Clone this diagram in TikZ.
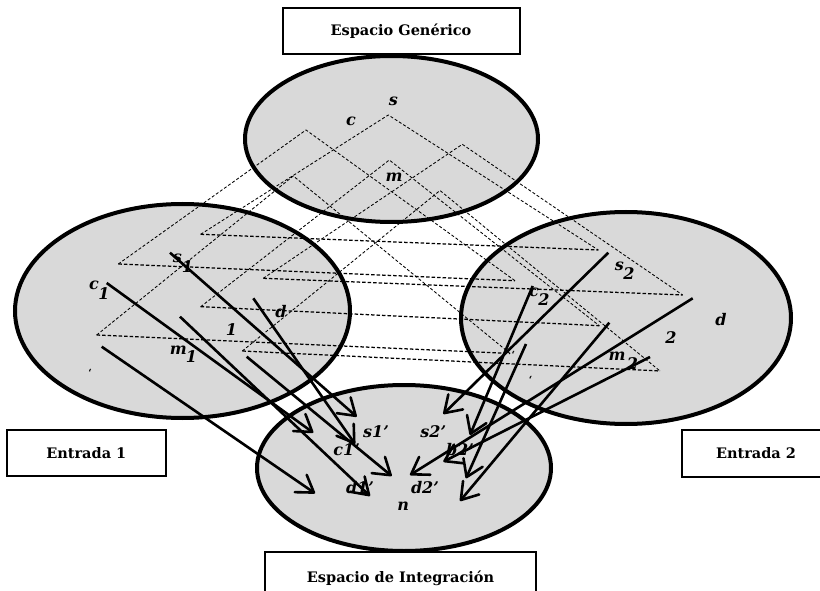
\documentclass[tikz,border=0pt]{standalone}
\usepackage{fontspec}
\newfontfamily\dvs{DejaVu Serif}
\usetikzlibrary{shapes.geometric,arrows.meta}
\begin{document}
\begin{tikzpicture}[x=1pt,y=-1pt,
  ell/.style={ellipse, draw, fill=gray!30, line width=4pt, inner sep=0pt},
  tri/.style={dash pattern=on 3pt off 2pt, line width=0.85pt},
  basel/.style={dash pattern=on 3.5pt off 2pt, line width=1.25pt},
  arr/.style={line width=2.6pt, -{Straight Barb[length=16pt,width=21pt,line width=2.6pt,round]}},
  lab/.style={font=\dvs\bfseries\itshape\fontsize{16}{18}\selectfont, inner sep=0pt},
  mk/.style={font=\dvs\bfseries\fontsize{10}{11}\selectfont, inner sep=0pt},
  boxlab/.style={draw, fill=white, line width=2pt, font=\dvs\bfseries\fontsize{14.5}{17}\selectfont, inner sep=0pt},
]
\useasboundingbox (0,0) rectangle (820,591);
\clip (0,0) rectangle (820,591);

% ellipses
\node[ell, minimum width=293pt, minimum height=166pt] (gen) at (391.5,139) {};
\node[ell, minimum width=335pt, minimum height=214pt] (in1) at (182.5,311) {};
\node[ell, minimum width=330pt, minimum height=212pt] (in2) at (626,318) {};
\node[ell, minimum width=294pt, minimum height=166pt] (bl) at (404,468) {};

% triangle vertices
\coordinate (A1) at (388.3,115);   \coordinate (L1) at (200.7,234.3); \coordinate (R1) at (598.3,250);
\coordinate (A2) at (306,130);     \coordinate (L2) at (118.3,264);   \coordinate (R2) at (515,280.7);
\coordinate (A3) at (462.3,144.3); \coordinate (L3) at (263.3,278.3); \coordinate (R3) at (682.7,295);
\coordinate (A4) at (389.3,160);   \coordinate (L4) at (200.7,306.7); \coordinate (R4) at (599.3,325.7);
\coordinate (A5) at (293.3,176);   \coordinate (L5) at (96.7,335);    \coordinate (R5) at (510,353.5);
\coordinate (A6) at (440,190.5);   \coordinate (L6) at (242.3,351);   \coordinate (R6) at (660,371);

\foreach \i in {1,...,6} {
  \draw[tri] (L\i) -- (A\i) -- (R\i);
  \draw[basel] (L\i) -- (R\i);
}

% arrow end points
\coordinate (S1) at (106.7,283);   \coordinate (H2) at (313.3,432.7);
\coordinate (S2) at (170,252.7);   \coordinate (H1) at (356.7,416.7);
\coordinate (S3) at (180,316.7);   \coordinate (H6) at (370,496);
\coordinate (S4) at (253.3,298.3); \coordinate (H3) at (355,444);
\coordinate (S5) at (101.7,346.7); \coordinate (H5) at (315,493.3);
\coordinate (S6) at (246.7,356.7); \coordinate (H4) at (391.7,476);
\coordinate (T1) at (608.3,252.7); \coordinate (H7) at (443.3,414);
\coordinate (T2) at (532.7,286);   \coordinate (H8) at (470,435);
\coordinate (T3) at (692.7,298.3); \coordinate (H9) at (410,475);
\coordinate (T4) at (609.3,322.7); \coordinate (H12) at (460,501);
\coordinate (T5) at (526,344);     \coordinate (H11) at (466,478.3);
\coordinate (T6) at (650,357);     \coordinate (H10) at (443.3,461.7);

\draw[arr] (S1) -- (H2);
\draw[arr] (S2) -- (H1);
\draw[arr] (S3) -- (H6);
\draw[arr] (S4) -- (H3);
\draw[arr] (S5) -- (H5);
\draw[arr] (S6) -- (H4);
\draw[arr] (T1) -- (H7);
\draw[arr] (T2) -- (H8);
\draw[arr] (T3) -- (H9);
\draw[arr] (T4) -- (H12);
\draw[arr] (T5) -- (H11);
\draw[arr] (T6) -- (H10);

% labels: generic space
\node[lab] (gs) at (393.3,101.7) {s};
\node[lab] (gc) at (351,121.7) {c};
\node[lab] (gm) at (394,177.3) {m};
% input 1
\node[lab] (s1a) at (177.3,258.3) {s};  \node[lab] (s1b) at (187.5,267) {1};
\node[lab] (c1a) at (94,285) {c};       \node[lab] (c1b) at (104,293.5) {1};
\node[lab] (d1) at (281,311.7) {d};
\node[lab] (o1) at (231.5,330) {1};
\node[lab] (m1a) at (178.3,350) {m};    \node[lab] (m1b) at (191.5,357) {1};
\node[mk] (k1) at (90,373) {‘};
% input 2
\node[lab] (s2a) at (619.3,266) {s};    \node[lab] (s2b) at (629,273.5) {2};
\node[lab] (c2a) at (534,292.7) {c};    \node[lab] (c2b) at (544,299.5) {2};
\node[lab] (d2) at (721,319.3) {d};
\node[lab] (o2) at (671,337.5) {2};
\node[lab] (m2a) at (617,356.7) {m};    \node[lab] (m2b) at (632.5,363.5) {2};
\node[mk] (k2) at (513.3,355) {‘};
\node[mk] (k3) at (530.7,380) {‘};
% blend
\node[lab] (b1) at (376,431.7) {s1’};
\node[lab] (b2) at (433.3,431.7) {s2’};
\node[lab] (b3) at (346.7,450) {c1’};
\node[lab] (b4) at (460,450) {b2’};
\node[lab] (b5) at (360,487.3) {d1’};
\node[lab] (b6) at (425,487.3) {d2’};
\node[lab] (b7) at (403.3,506.7) {n};

% boxes
\node[boxlab, minimum width=237pt, minimum height=46pt] (tgen) at (401,31) {Espacio Genérico};
\node[boxlab, minimum width=159pt, minimum height=46pt] (tin1) at (86.3,453) {Entrada 1};
\node[boxlab, minimum width=148pt, minimum height=47pt] (tin2) at (756,453.5) {Entrada 2};
\node[draw, fill=white, line width=2pt, minimum width=271pt, minimum height=52pt, inner sep=0pt] (tbl) at (400.5,578) {};
\node[font=\dvs\bfseries\fontsize{14.5}{17}\selectfont, inner sep=0pt] (tblt) at (400.5,578) {Espacio de Integración};
\end{tikzpicture}
\end{document}
